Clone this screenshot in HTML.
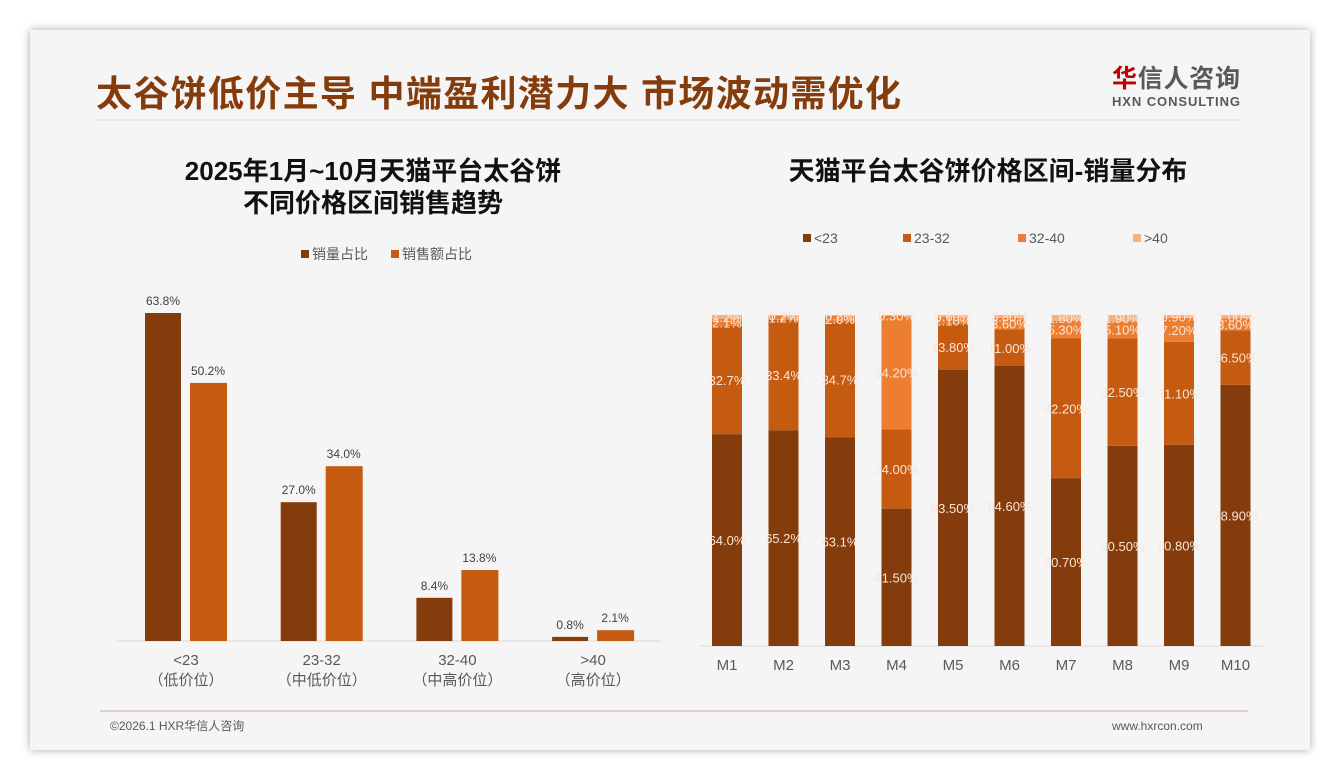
<!DOCTYPE html>
<html><head><meta charset="utf-8"><style>
body{margin:0;width:1340px;height:780px;background:#fff;font-family:"Liberation Sans","Noto Sans CJK SC",sans-serif;overflow:hidden}
#slide{position:absolute;left:30px;top:30px;width:1280px;height:720px;background:#f5f5f5;box-shadow:0 0 8px rgba(0,0,0,.35)}
</style></head><body>
<div id="slide"></div>
<svg width="1340" height="780" style="position:absolute;left:0;top:0" font-family="Liberation Sans, Noto Sans CJK SC, sans-serif">
<text x="96" y="106" font-size="36" font-weight="bold" fill="#843c0c" textLength="805">太谷饼低价主导 中端盈利潜力大 市场波动需优化</text>
<line x1="98" y1="120" x2="1240" y2="120" stroke="#d9d9d9"/>
<g>
<text x="1112" y="87" font-size="25" font-weight="bold" fill="#595959" textLength="128"><tspan fill="#c00000">华</tspan>信人咨询</text>
<text x="1112" y="106" font-size="13" font-weight="bold" fill="#595959" textLength="128">HXN CONSULTING</text></g>
<text x="373" y="180" font-size="26" font-weight="bold" text-anchor="middle" fill="#111">2025年1月~10月天猫平台太谷饼</text>
<text x="373" y="212" font-size="26" font-weight="bold" text-anchor="middle" fill="#111">不同价格区间销售趋势</text>
<text x="988" y="180" font-size="26" font-weight="bold" text-anchor="middle" fill="#111">天猫平台太谷饼价格区间-销量分布</text>
<line x1="100" y1="711" x2="1248" y2="711" stroke="#c9a68d"/>
<text x="110" y="730" font-size="12" fill="#595959">©2026.1 HXR华信人咨询</text>
<text x="1112" y="730" font-size="12" fill="#595959">www.hxrcon.com</text>
<g id="left"></g>
<g id="right"></g>
</svg>
<script>
const ns='http://www.w3.org/2000/svg';
const lCats=['<23','23-32','32-40','>40'];
const lSub=['（低价位）','（中低价位）','（中高价位）','（高价位）'];
const lVol=[63.8,27.0,8.4,0.8];
const lAmt=[50.2,34.0,13.8,2.1];
const rCats=['M1','M2','M3','M4','M5','M6','M7','M8','M9','M10'];
const rA=[64.0,65.2,63.1,41.5,83.5,84.6,50.7,60.5,60.8,78.9];
const rB=[32.7,33.4,34.7,24.0,13.8,11.0,42.2,32.5,31.1,16.5];
const rC=[2.1,1.2,2.0,34.2,2.1,3.6,5.3,5.1,7.2,3.6];
const rD=[1.2,0.2,0.2,0.3,0.6,0.8,1.8,1.9,0.9,1.0];
const rLabA=['64.0%','65.2%','63.1%','41.50%','83.50%','84.60%','50.70%','60.50%','60.80%','78.90%'];
const rLabB=['32.7%','33.4%','34.7%','24.00%','13.80%','11.00%','42.20%','32.50%','31.10%','16.50%'];
const rLabC=['2.1%','1.2%','2.0%','34.20%','2.10%','3.60%','5.30%','5.10%','7.20%','3.60%'];
const rLabD=['1.2%','0.2%','0.2%','0.30%','0.60%','0.80%','1.80%','1.90%','0.90%','1.00%'];
function el(p,t,a,txt){const e=document.createElementNS(ns,t);for(const k in a)e.setAttribute(k,a[k]);if(txt!=null)e.textContent=txt;p.appendChild(e);return e;}
const L=document.getElementById('left');
const lBase=641,lScale=328/63.8;
const lx=i=>186+i*135.7;
const ly=v=>lBase-v*lScale;
let e=el(L,'line',{x1:117,y1:lBase,x2:661,y2:lBase,stroke:'#d9d9d9'});

lCats.forEach((c,i)=>{
 let b=el(L,'rect',{x:lx(i)-41,y:ly(lVol[i]),width:36,height:lVol[i]*lScale,fill:'#843c0c'});
 
 let t=el(L,'text',{x:lx(i)-23,y:ly(lVol[i])-8,'font-size':12,'text-anchor':'middle',fill:'#404040'},lVol[i].toFixed(1)+'%');
 
 b=el(L,'rect',{x:lx(i)+4,y:ly(lAmt[i]),width:37,height:lAmt[i]*lScale,fill:'#c55a11'});
 
 t=el(L,'text',{x:lx(i)+22,y:ly(lAmt[i])-8,'font-size':12,'text-anchor':'middle',fill:'#404040'},lAmt[i].toFixed(1)+'%');
 
 t=el(L,'text',{x:lx(i),y:665,'font-size':15,'text-anchor':'middle',fill:'#595959'},c);
 
 t=el(L,'text',{x:lx(i),y:685,'font-size':15,'text-anchor':'middle',fill:'#595959'},lSub[i]);
 
});
[['销量占比','#843c0c',301],['销售额占比','#c55a11',391]].forEach((g,i)=>{
 let r=el(L,'rect',{x:g[2],y:250,width:8,height:8,fill:g[1]});
 
 let t=el(L,'text',{x:g[2]+11,y:259,'font-size':14,fill:'#595959'},g[0]);
 
});
const R=document.getElementById('right');
const rBase=646,rScale=331/100;
const rx=i=>727+i*56.5;
e=el(R,'line',{x1:700,y1:rBase,x2:1265,y2:rBase,stroke:'#d9d9d9'});

const series=[[rA,'#843c0c',rLabA],[rB,'#c55a11',rLabB],[rC,'#ed7d31',rLabC],[rD,'#f4b183',rLabD]];
rCats.forEach((c,i)=>{
 let cum=0;
 series.forEach((s,k)=>{
  const v=s[0][i];const y0=rBase-cum*rScale,h=v*rScale;
  let b=el(R,'rect',{x:rx(i)-15,y:y0-h,width:30,height:h,fill:s[1]});
  
  let t=el(R,'text',{x:rx(i),y:y0-h/2+5,'font-size':13,'text-anchor':'middle',fill:'#fbe5d6'},s[2][i]);
  
  cum+=v;
 });
 let t=el(R,'text',{x:rx(i),y:670,'font-size':15,'text-anchor':'middle',fill:'#595959'},c);
 
});
[['<23',803],['23-32',903],['32-40',1018],['>40',1133]].forEach((g,i)=>{
 let r=el(R,'rect',{x:g[1],y:234,width:8,height:8,fill:series[i][1]});
 
 let t=el(R,'text',{x:g[1]+11,y:243,'font-size':14,fill:'#595959'},g[0]);
 
});
</script>
</body></html>
